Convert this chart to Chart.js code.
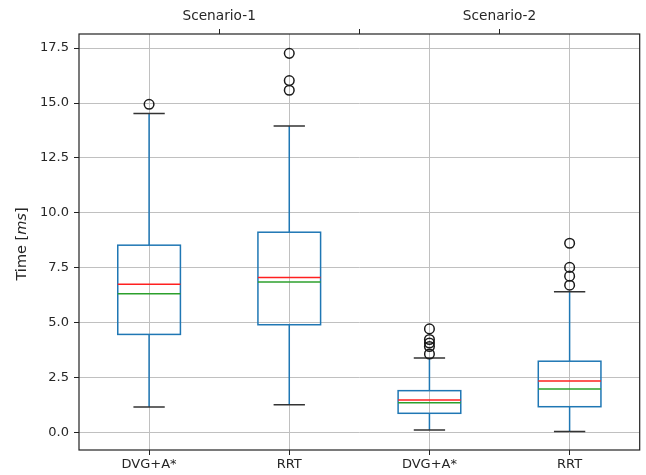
<!DOCTYPE html>
<html>
<head>
<meta charset="utf-8">
<script src="https://cdn.jsdelivr.net/npm/chart.js@4"></script>
<style>
html,body{margin:0;padding:0;background:#fff;}
#wrap{width:646px;height:475px;}
</style>
</head>
<body>
<div id="wrap"><canvas id="c" width="646" height="475"></canvas></div>
<script>
// ---- data ----
const categories = ['DVG+A*', 'RRT', 'DVG+A*', 'RRT'];
const scenarioLabels = ['Scenario-1', '', 'Scenario-2'];
const q1 = [4.47, 4.91, 0.88, 1.18];
const q3 = [8.53, 9.12, 1.91, 3.25];
const medians = [6.32, 6.86, 1.36, 1.99];
const means = [6.75, 7.06, 1.49, 2.35];
const whiskerLow = [1.17, 1.27, 0.12, 0.05];
const whiskerHigh = [14.52, 13.95, 3.40, 6.41];
const outliers = [
  [14.94],
  [17.26, 16.02, 15.58],
  [4.72, 4.24, 4.08, 3.92, 3.58],
  [8.62, 7.52, 7.12, 6.71]
];
const yTicks = [0, 2.5, 5, 7.5, 10, 12.5, 15, 17.5];
const categoryTicks = [0, 1, 2, 3];
const scenarioTicks = [0.5, 1.5, 2.5];
const boxWidth = 0.447; // in category units

const FONT = 'DejaVu Sans';
const TXT = '#262626';
const GRID = '#c0c0c0';
const BLUE = '#1f77b4';

const outlierPts = [];
outliers.forEach((arr, i) => arr.forEach(v => outlierPts.push({x: i, y: v})));

const boxPlugin = {
  id: 'boxParts',
  beforeDatasetsDraw(chart) {
    const ctx = chart.ctx;
    const xs = chart.scales.x, ys = chart.scales.y;
    ctx.save();
    ctx.lineCap = 'butt';
    categories.forEach((c, i) => {
      const cx = xs.getPixelForValue(i);
      const hw = xs.getPixelForValue(i + boxWidth / 2) - cx;
      const capHw = hw / 2;
      const yq1 = ys.getPixelForValue(q1[i]);
      const yq3 = ys.getPixelForValue(q3[i]);
      const ylo = ys.getPixelForValue(whiskerLow[i]);
      const yhi = ys.getPixelForValue(whiskerHigh[i]);
      // box
      ctx.strokeStyle = BLUE; ctx.lineWidth = 1.5;
      ctx.strokeRect(cx - hw, yq3, 2 * hw, yq1 - yq3);
      // whiskers
      ctx.beginPath();
      ctx.moveTo(cx, yq1); ctx.lineTo(cx, ylo);
      ctx.moveTo(cx, yq3); ctx.lineTo(cx, yhi);
      ctx.stroke();
      // caps
      ctx.strokeStyle = '#333'; ctx.lineWidth = 1.5;
      ctx.beginPath();
      ctx.moveTo(cx - capHw, ylo); ctx.lineTo(cx + capHw, ylo);
      ctx.moveTo(cx - capHw, yhi); ctx.lineTo(cx + capHw, yhi);
      ctx.stroke();
      // median
      const ym = ys.getPixelForValue(medians[i]);
      ctx.strokeStyle = '#2ca02c'; ctx.lineWidth = 1.5;
      ctx.beginPath(); ctx.moveTo(cx - hw, ym); ctx.lineTo(cx + hw, ym); ctx.stroke();
      // mean
      const ymn = ys.getPixelForValue(means[i]);
      ctx.strokeStyle = '#ff2020'; ctx.lineWidth = 1.5;
      ctx.beginPath(); ctx.moveTo(cx - hw, ymn); ctx.lineTo(cx + hw, ymn); ctx.stroke();
    });
    ctx.restore();
  },
  afterDatasetsDraw(chart) {
    const ctx = chart.ctx;
    const a = chart.chartArea;
    ctx.save();
    // frame
    ctx.strokeStyle = '#222'; ctx.lineWidth = 1.2;
    ctx.strokeRect(a.left, a.top, a.right - a.left, a.bottom - a.top);
    // y-axis title with italic part
    const size = 14.5;
    const p1 = 'Time [', p2 = 'ms', p3 = ']';
    ctx.fillStyle = TXT;
    ctx.textBaseline = 'middle';
    ctx.font = size + 'px "' + FONT + '"';
    const w1 = ctx.measureText(p1).width, w3 = ctx.measureText(p3).width;
    ctx.font = 'italic ' + size + 'px "' + FONT + '"';
    const w2 = ctx.measureText(p2).width;
    const total = w1 + w2 + w3;
    ctx.translate(22, (a.top + a.bottom) / 2 + 2);
    ctx.rotate(-Math.PI / 2);
    const x0 = -total / 2;
    ctx.textAlign = 'left';
    ctx.font = size + 'px "' + FONT + '"';
    ctx.fillText(p1, x0, 0);
    ctx.font = 'italic ' + size + 'px "' + FONT + '"';
    ctx.fillText(p2, x0 + w1, 0);
    ctx.font = size + 'px "' + FONT + '"';
    ctx.fillText(p3, x0 + w1 + w2, 0);
    ctx.restore();
  }
};

new Chart(document.getElementById('c'), {
  type: 'scatter',
  data: {
    datasets: [
      {
        data: outlierPts,
        xAxisID: 'x',
        yAxisID: 'y',
        pointStyle: 'circle',
        pointRadius: 4.8,
        pointBorderWidth: 1.5,
        pointBackgroundColor: 'rgba(0,0,0,0)',
        pointBorderColor: '#1a1a1a'
      }
    ]
  },
  options: {
    responsive: false,
    animation: false,
    devicePixelRatio: 1,
    layout: {padding: {left: 0, right: 3, top: 0, bottom: 0}},
    plugins: {legend: {display: false}, tooltip: {enabled: false}, title: {display: false}},
    scales: {
      x: {
        type: 'linear',
        position: 'bottom',
        min: -0.5, max: 3.5,
        afterBuildTicks(s) { s.ticks = categoryTicks.map(v => ({value: v})); },
        grid: {display: true, color: GRID, lineWidth: 1, tickColor: '#222', tickLength: 5},
        border: {display: false},
        ticks: {color: TXT, font: {family: FONT, size: 13}, padding: 2, maxRotation: 0, autoSkip: false,
          callback: (v, i) => categories[i]},
        afterFit(s) { s.height = 25; }
      },
      xTop: {
        type: 'linear',
        position: 'top',
        min: -0.5, max: 3.5,
        afterBuildTicks(s) { s.ticks = scenarioTicks.map(v => ({value: v})); },
        grid: {display: true, drawOnChartArea: false, tickColor: '#222', tickLength: 5},
        border: {display: false},
        ticks: {
          color: TXT, font: {family: FONT, size: 13.7}, padding: 4, maxRotation: 0, autoSkip: false,
          callback: (v, i) => scenarioLabels[i]
        },
        afterFit(s) { s.height = 34; }
      },
      y: {
        type: 'linear',
        position: 'left',
        min: -0.79, max: 18.14,
        afterBuildTicks(s) { s.ticks = yTicks.map(v => ({value: v})); },
        grid: {color: GRID, lineWidth: 1, tickColor: '#222', tickLength: 5},
        border: {display: false},
        ticks: {color: TXT, font: {family: FONT, size: 13}, padding: 5, callback: v => Number(v).toFixed(1)},
        afterFit(s) { s.width = 79; }
      }
    }
  },
  plugins: [boxPlugin]
});
</script>
</body>
</html>
